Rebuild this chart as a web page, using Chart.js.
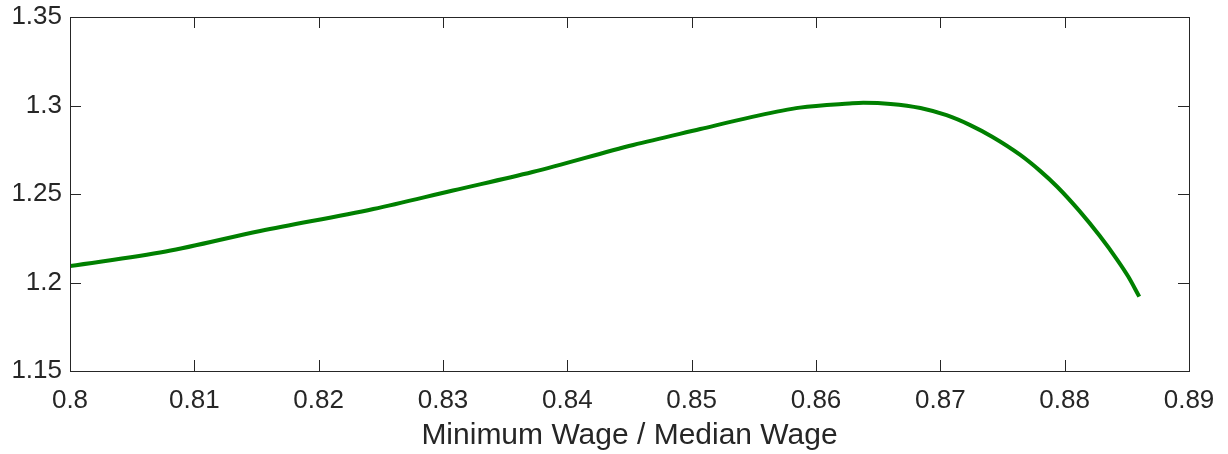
<!DOCTYPE html>
<html>
<head>
<meta charset="utf-8">
<script src="https://cdn.jsdelivr.net/npm/chart.js@4"></script>
<style>
  body { margin: 0; background: #fff; }
  #wrap { width: 1228px; height: 454px; position: relative; }
</style>
</head>
<body>
<div id="wrap"><canvas id="grafico"></canvas></div>
<script>
// ratio do salario minimo / mediano (eixo x) e valores da curva (eixo y)
const ratioMinMed = [0.8, 0.8077, 0.8153, 0.8244, 0.8308, 0.8372, 0.8453, 0.8507, 0.8547, 0.8587,
    0.8627, 0.8638, 0.8660, 0.8684, 0.8705, 0.8724, 0.8742, 0.8764, 0.8780, 0.8794,
    0.8812, 0.8828, 0.8842, 0.8851, 0.886];
const valores = [1.2093, 1.2175, 1.2291, 1.2415, 1.2520, 1.2624, 1.2777, 1.2867, 1.2933, 1.2988,
    1.3011, 1.3015, 1.3009, 1.2986, 1.2945, 1.2889, 1.2822, 1.2722, 1.2632, 1.2541,
    1.2403, 1.2265, 1.2131, 1.2035, 1.1920];

const xTicks = [0.8, 0.81, 0.82, 0.83, 0.84, 0.85, 0.86, 0.87, 0.88, 0.89];
const yTicks = [1.15, 1.2, 1.25, 1.3, 1.35];
const xTitulo = 'Minimum Wage / Median Wage';

const corEixo = '#262626';
const fonte = 'Arial, "Liberation Sans", Helvetica, sans-serif';

// moldura e marcas internas, estilo matlab
const moldura = {
    id: 'moldura',
    afterDatasetsDraw(chart) {
        const { ctx, chartArea: a, scales } = chart;
        const tam = 11;
        ctx.save();
        ctx.strokeStyle = corEixo;
        ctx.lineWidth = 1;
        ctx.beginPath();
        xTicks.forEach(v => {
            const px = Math.round(scales.x.getPixelForValue(v)) + 0.5;
            ctx.moveTo(px, a.bottom); ctx.lineTo(px, a.bottom - tam);
            ctx.moveTo(px, a.top); ctx.lineTo(px, a.top + tam);
        });
        yTicks.forEach(v => {
            const py = Math.round(scales.y.getPixelForValue(v)) + 0.5;
            ctx.moveTo(a.left, py); ctx.lineTo(a.left + tam, py);
            ctx.moveTo(a.right, py); ctx.lineTo(a.right - tam, py);
        });
        ctx.stroke();
        ctx.strokeRect(Math.round(a.left) + 0.5, Math.round(a.top) + 0.5,
            Math.round(a.right - a.left), Math.round(a.bottom - a.top));
        ctx.restore();
    }
};

const ctx = document.getElementById('grafico').getContext('2d');

const grafico = new Chart(ctx, {
    type: 'line',
    data: {
        datasets: [{
            data: ratioMinMed.map((x, i) => ({ x: x, y: valores[i] })),
            borderColor: '#008000',
            borderWidth: 4,
            pointRadius: 0,
            cubicInterpolationMode: 'monotone',
            fill: false
        }]
    },
    options: {
        responsive: true,
        maintainAspectRatio: false,
        animation: false,
        layout: { padding: { top: 17, right: 39, left: 0, bottom: 0 } },
        plugins: {
            legend: { display: false },
            tooltip: { enabled: false }
        },
        scales: {
            x: {
                type: 'linear',
                min: 0.8,
                max: 0.89,
                afterBuildTicks: s => { s.ticks = xTicks.map(v => ({ value: v })); },
                afterFit: s => { s.height = 83; s.paddingLeft = 0; s.paddingRight = 0; },
                grid: { display: false, drawTicks: false },
                border: { display: false },
                ticks: {
                    autoSkip: false,
                    maxRotation: 0,
                    padding: 14,
                    color: corEixo,
                    font: { family: fonte, size: 26 },
                    callback: v => String(+v.toFixed(2))
                },
                title: {
                    display: true,
                    text: xTitulo,
                    color: corEixo,
                    font: { family: fonte, size: 30 },
                    padding: { top: 0, bottom: 0 }
                }
            },
            y: {
                min: 1.15,
                max: 1.35,
                afterBuildTicks: s => { s.ticks = yTicks.map(v => ({ value: v })); },
                afterFit: s => { s.width = 70; s.paddingTop = 0; s.paddingBottom = 0; },
                grid: { display: false, drawTicks: false },
                border: { display: false },
                ticks: {
                    padding: 8,
                    color: corEixo,
                    font: { family: fonte, size: 26 },
                    callback: v => String(+v.toFixed(2))
                }
            }
        }
    },
    plugins: [moldura]
});
</script>
</body>
</html>
